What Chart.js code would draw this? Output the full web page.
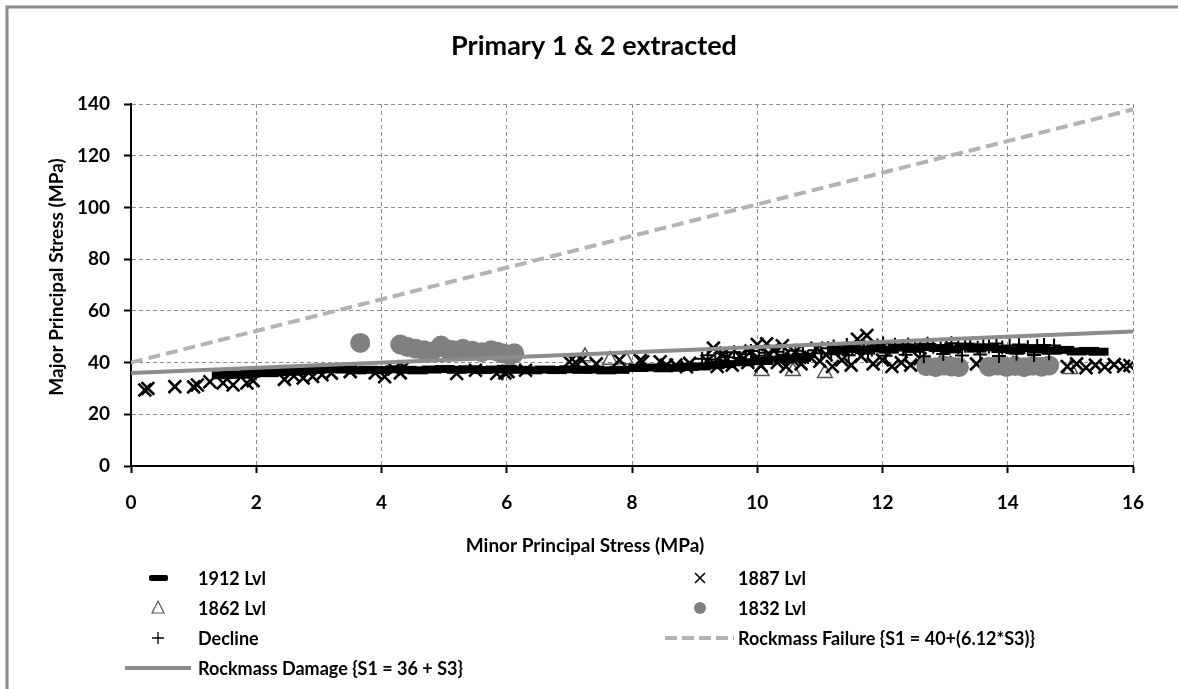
<!DOCTYPE html>
<html>
<head>
<meta charset="utf-8">
<script src="https://cdn.jsdelivr.net/npm/chart.js@4.4.0/dist/chart.umd.min.js"></script>
<style>
  html, body { margin: 0; padding: 0; background: #fff; }
</style>
</head>
<body>
<canvas id="stressChart" width="1178" height="689"></canvas>
<script>
var xTicks = [0, 2, 4, 6, 8, 10, 12, 14, 16];
var yTicks = [0, 20, 40, 60, 80, 100, 120, 140];

var seriesNames = ["1912 Lvl", "1887 Lvl", "1862 Lvl", "1832 Lvl", "Decline",
  "Rockmass Failure {S1 = 40+(6.12*S3)}", "Rockmass Damage {S1 = 36 + S3}"];

var lvl1912X = [1.45,1.58,1.77,1.9,2.06,2.2,2.36,2.5,2.64,2.8,2.95,3.08,3.2,3.41,3.6,3.79,4.0,4.22,4.4,4.58,4.8,5.01,5.2,5.39,5.6,5.82,6.0,6.19,6.4,6.61,6.8,7.0,7.21,7.4,7.59,7.8,8.1,8.31,8.5,8.69,8.9,9.1,9.32,9.5,9.8,10.1,10.42,10.7,11.3,11.5,11.72,11.9,12.1,12.31,12.5,12.7,12.9,13.1,13.31,13.5,13.7,13.9,14.12,14.3,14.5,14.7,14.9,15.1,15.3,15.45];
var lvl1912Y = [35.1,35.4,35.3,35.7,36.0,35.9,36.3,36.6,36.5,36.9,37.2,37.4,37.6,37.3,37.0,37.2,37.1,37.4,37.2,37.0,37.3,37.5,37.2,37.4,37.1,37.3,37.6,37.2,37.0,37.3,37.1,37.4,37.2,37.3,37.0,37.2,37.9,38.1,37.8,38.0,38.3,38.5,39.0,39.4,40.1,40.6,41.2,41.8,44.6,45.2,44.8,45.5,45.0,45.8,45.3,46.0,45.6,45.1,46.2,45.4,45.9,45.2,44.8,45.6,45.0,44.6,44.9,44.3,44.5,44.2];

var lvl1887X = [0.22,0.27,0.7,1.0,1.06,1.26,1.47,1.63,1.85,1.95,2.45,2.6,2.75,2.9,3.05,3.2,3.5,3.9,4.05,4.2,4.3,4.36,5.2,5.5,5.84,5.97,6.02,6.3,7.0,7.1,7.2,7.43,7.8,8.13,8.17,8.45,8.55,8.7,8.87,8.92,9.2,9.3,9.36,9.45,9.5,9.6,9.72,9.85,9.9,10.0,10.06,10.15,10.2,10.25,10.32,10.4,10.46,10.55,10.6,10.7,10.85,10.95,11.0,11.1,11.2,11.35,11.5,11.6,11.66,11.75,11.85,12.0,12.15,12.3,12.45,12.6,12.8,13.0,13.2,13.5,13.8,14.0,14.2,14.95,15.1,15.25,15.4,15.55,15.7,15.85,15.95];
var lvl1887Y = [29.4,30.0,30.7,30.6,31.3,32.6,32.1,31.3,32.1,33.0,33.5,34.8,34.0,34.6,35.3,35.9,36.5,36.0,34.5,37.5,36.0,38.4,35.8,37.0,35.8,36.0,36.5,37.0,40.3,40.0,41.0,39.5,41.0,40.8,40.3,40.3,39.0,39.0,38.4,39.7,40.5,45.6,38.5,43.5,41.5,39.0,42.5,40.0,44.5,47.0,38.8,47.3,43.0,45.0,40.0,46.5,38.5,41.5,44.0,39.5,42.0,45.5,40.5,43.0,38.5,41.0,39.0,49.0,42.5,50.5,39.5,41.0,38.5,40.0,39.0,41.5,38.5,40.0,38.6,39.5,38.8,40.0,39.0,38.5,39.5,38.0,39.0,38.3,39.2,38.6,38.9];

var lvl1862X = [7.25,7.65,7.9,10.07,10.57,11.08,15.0];
var lvl1862Y = [42.3,41.0,41.2,36.6,36.6,35.9,37.4];

var lvl1832X = [3.66,4.3,4.42,4.55,4.68,4.8,4.95,5.05,5.15,5.3,5.45,5.6,5.75,5.85,5.95,6.05,6.12,12.7,12.85,12.98,13.1,13.22,13.7,13.84,13.98,14.12,14.26,14.4,14.54,14.66];
var lvl1832Y = [47.6,47.0,46.0,45.3,44.8,44.2,46.6,45.2,44.8,45.3,44.6,44.0,44.8,44.2,43.5,42.8,43.6,38.6,38.2,38.9,38.5,38.2,38.4,38.9,38.3,38.7,38.2,38.8,38.4,38.9];

var declineX = [9.12,9.21,9.33,9.41,9.52,9.63,9.71,9.82,9.9,10.03,10.12,10.2,10.31,10.42,10.5,10.61,10.73,10.81,10.92,11.02,11.13,11.22,11.31,11.43,11.52,11.6,11.71,11.83,11.92,12.01,12.12,12.2,12.33,12.41,12.52,12.6,12.72,12.81,12.93,13.02,13.1,13.21,13.32,13.4,13.52,13.61,13.7,13.82,13.91,14.03,14.18,14.32,14.47,14.58,14.74,
  11.18,11.46,11.77,12.05,12.37,12.66,12.97,13.27,13.56,13.86,14.14,14.42,14.66];
var declineY = [41.5,42.8,41.2,43.6,42.1,44.0,41.8,43.2,44.5,42.6,43.8,41.9,44.2,43.0,42.4,44.6,43.4,42.2,44.8,43.6,45.5,46.2,44.9,46.8,45.3,47.2,46.0,45.1,46.6,47.4,45.8,46.9,45.2,47.0,46.3,45.6,47.3,46.1,45.4,46.8,47.5,45.9,46.5,47.1,45.7,46.9,46.2,47.4,45.8,46.6,47.0,45.9,46.4,46.8,46.6,
  43.2,42.8,43.5,42.6,43.0,42.4,43.3,42.7,43.1,42.5,43.4,42.9,43.6];

var failureX = [0, 16];
var failureY = [40, 137.9];
var damageX = [0, 16];
var damageY = [36, 52];

function pts(xs, ys) {
  var out = [];
  for (var i = 0; i < Math.min(xs.length, ys.length); i++) out.push({x: xs[i], y: ys[i]});
  return out;
}

var FONT = "Lato";

// draws frame, title, axis titles and the two-column legend
var decorations = {
  id: "decorations",
  beforeDraw: function(chart) {
    var ctx = chart.ctx;
    ctx.save();
    ctx.fillStyle = "#fff";
    ctx.fillRect(0, 0, chart.width, chart.height);
    ctx.strokeStyle = "#8c8c8c";
    ctx.lineWidth = 3;
    ctx.beginPath();
    ctx.moveTo(7, chart.height);
    ctx.lineTo(7, 7);
    ctx.lineTo(chart.width, 7);
    ctx.stroke();
    ctx.restore();
  },
  afterDraw: function(chart) {
    var ctx = chart.ctx;
    var ds = chart.data.datasets;
    ctx.save();
    ctx.fillStyle = "#000";
    ctx.textAlign = "center";
    ctx.textBaseline = "middle";
    ctx.font = "bold 27px " + FONT;
    ctx.fillText("Primary 1 & 2 extracted", 594, 46);

    ctx.font = "bold 19px " + FONT;
    ctx.fillText("Minor Principal Stress (MPa)", 585, 546);
    ctx.save();
    ctx.translate(57, 277);
    ctx.rotate(-Math.PI / 2);
    ctx.fillText("Major Principal Stress (MPa)", 0, 0);
    ctx.restore();

    // legend
    var rows = [578, 608, 638, 668];
    ctx.font = "bold 18px " + FONT;
    ctx.textAlign = "left";
    var items = [
      {i: 0, mx: 158, tx: 198, r: 0},
      {i: 1, mx: 700, tx: 738, r: 0},
      {i: 2, mx: 158, tx: 198, r: 1},
      {i: 3, mx: 700, tx: 738, r: 1},
      {i: 4, mx: 158, tx: 198, r: 2},
      {i: 5, mx: 700, tx: 738, r: 2},
      {i: 6, mx: 158, tx: 198, r: 3}
    ];
    items.forEach(function(it) {
      var y = rows[it.r];
      var x = it.mx;
      ctx.save();
      if (it.i === 0) {
        ctx.fillStyle = "#000";
        ctx.beginPath();
        ctx.roundRect(x - 9, y - 3, 19, 6, 2);
        ctx.fill();
      } else if (it.i === 1) {
        ctx.strokeStyle = "#000";
        ctx.lineWidth = 1.6;
        ctx.beginPath();
        ctx.moveTo(x - 5, y - 5); ctx.lineTo(x + 5, y + 5);
        ctx.moveTo(x + 5, y - 5); ctx.lineTo(x - 5, y + 5);
        ctx.stroke();
      } else if (it.i === 2) {
        ctx.strokeStyle = "#555";
        ctx.lineWidth = 1.2;
        ctx.beginPath();
        ctx.moveTo(x, y - 7); ctx.lineTo(x + 6, y + 5); ctx.lineTo(x - 6, y + 5);
        ctx.closePath();
        ctx.stroke();
      } else if (it.i === 3) {
        ctx.fillStyle = "#808080";
        ctx.beginPath();
        ctx.arc(x, y, 6, 0, Math.PI * 2);
        ctx.fill();
      } else if (it.i === 4) {
        ctx.strokeStyle = "#000";
        ctx.lineWidth = 1.3;
        ctx.beginPath();
        ctx.moveTo(x - 6, y); ctx.lineTo(x + 6, y);
        ctx.moveTo(x, y - 6); ctx.lineTo(x, y + 6);
        ctx.stroke();
      } else if (it.i === 5) {
        ctx.strokeStyle = ds[5].borderColor;
        ctx.lineWidth = 4;
        ctx.setLineDash([12, 5]);
        ctx.beginPath();
        ctx.moveTo(665, y); ctx.lineTo(734, y);
        ctx.stroke();
      } else {
        ctx.strokeStyle = ds[6].borderColor;
        ctx.lineWidth = 4;
        ctx.beginPath();
        ctx.moveTo(125, y); ctx.lineTo(191, y);
        ctx.stroke();
      }
      ctx.restore();
      ctx.fillText(ds[it.i].label, it.tx, y + 1);
    });
    ctx.restore();
  }
};

var axisFont = {family: FONT, size: 19, weight: "bold"};

new Chart("stressChart", {
  type: "scatter",
  data: {
    datasets: [{
      label: seriesNames[0],
      data: pts(lvl1912X, lvl1912Y),
      pointStyle: "line",
      pointRadius: 10,
      borderWidth: 8,
      borderColor: "#000",
      backgroundColor: "#000",
      order: 3
    }, {
      label: seriesNames[1],
      data: pts(lvl1887X, lvl1887Y),
      pointStyle: "crossRot",
      pointRadius: 9,
      borderWidth: 2.6,
      borderColor: "#000",
      order: 4
    }, {
      label: seriesNames[2],
      data: pts(lvl1862X, lvl1862Y),
      pointStyle: "triangle",
      pointRadius: 8.5,
      borderWidth: 1.5,
      borderColor: "#555",
      backgroundColor: "rgba(255,255,255,0)",
      order: 5
    }, {
      label: seriesNames[3],
      data: pts(lvl1832X, lvl1832Y),
      pointStyle: "circle",
      pointRadius: 10,
      borderWidth: 0,
      borderColor: "#808080",
      backgroundColor: "#808080",
      order: 2
    }, {
      label: seriesNames[4],
      data: pts(declineX, declineY),
      pointStyle: "cross",
      pointRadius: 7,
      borderWidth: 2,
      borderColor: "#000",
      order: 1
    }, {
      label: seriesNames[5],
      data: pts(failureX, failureY),
      showLine: true,
      pointRadius: 0,
      borderColor: "#b3b3b3",
      borderWidth: 4,
      borderDash: [12, 6],
      order: 0
    }, {
      label: seriesNames[6],
      data: pts(damageX, damageY),
      showLine: true,
      pointRadius: 0,
      borderColor: "#8c8c8c",
      borderWidth: 4,
      order: 0
    }]
  },
  options: {
    responsive: false,
    devicePixelRatio: 1,
    animation: false,
    layout: {padding: {left: 0, top: 104, right: 45, bottom: 0}},
    plugins: {
      legend: {display: false},
      tooltip: {enabled: false},
      title: {display: false}
    },
    scales: {
      x: {
        type: "linear",
        min: 0,
        max: 16,
        afterBuildTicks: function(scale) { scale.ticks = xTicks.map(function(v) { return {value: v}; }); },
        ticks: {color: "#000", font: axisFont, padding: 18, maxRotation: 0},
        grid: {color: "#8c8c8c", lineWidth: 1, tickColor: "#000", tickLength: 7, tickWidth: 2, tickBorderDash: []},
        border: {display: true, color: "#000", width: 2, dash: [4, 3]},
        afterFit: function(scale) { scale.height = 223; }
      },
      y: {
        min: 0,
        max: 140,
        afterBuildTicks: function(scale) { scale.ticks = yTicks.map(function(v) { return {value: v}; }); },
        ticks: {color: "#000", font: axisFont, padding: 14},
        grid: {color: "#8c8c8c", lineWidth: 1, tickColor: "#000", tickLength: 7, tickWidth: 2, tickBorderDash: []},
        border: {display: true, color: "#000", width: 2, dash: [4, 3]},
        afterFit: function(scale) { scale.width = 131; }
      }
    }
  },
  plugins: [decorations]
});
</script>
</body>
</html>
